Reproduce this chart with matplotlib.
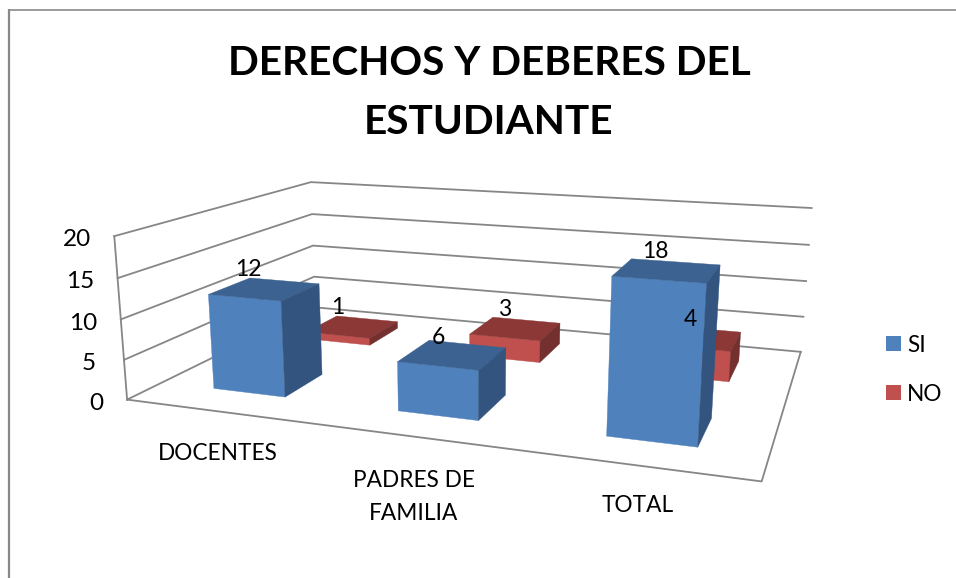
#!/usr/bin/env python3
"""Excel style 3D column chart, drawn through a small perspective projection."""

import numpy as np
import matplotlib
matplotlib.use("Agg")
import matplotlib.pyplot as plt
from matplotlib.patches import Polygon, Rectangle

title = "DERECHOS Y DEBERES DEL\nESTUDIANTE"
categories = ["DOCENTES", "PADRES DE\nFAMILIA", "TOTAL"]
series_names = ["SI", "NO"]
si_values = [12, 6, 18]
no_values = [1, 3, 4]
value_ticks = [0, 5, 10, 15, 20]

plt.rcParams["font.family"] = ["Lato", "DejaVu Sans"]

# camera calibration: box corner (cat, depth, value) -> pixel
calib_world = [
    (0, 0, 0), (0, 0, 5), (0, 0, 10), (0, 0, 15), (0, 0, 20),
    (0, 1, 0), (0, 1, 5), (0, 1, 10), (0, 1, 15), (0, 1, 20),
    (3, 1, 0), (3, 1, 5), (3, 1, 10), (3, 1, 15), (3, 1, 20),
    (3, 0, 0),
]
calib_pixel = [
    (126.7, 399.3), (124, 360), (121, 319), (118, 278), (114, 236.7),
    (315.5, 308), (314, 276.7), (313.3, 245.3), (312, 214), (310.7, 182),
    (800.7, 351.7), (803.3, 316.7), (806, 280.7), (809, 245), (811.7, 208.3),
    (761.7, 481.7),
]


def fit_camera(world, pixel):
    rows = []
    for (x, y, z), (u, v) in zip(world, pixel):
        X = [x / 3, y, z / 20, 1]
        u, v = u / 1000, v / 1000
        rows.append(X + [0, 0, 0, 0] + [-u * c for c in X])
        rows.append([0, 0, 0, 0] + X + [-v * c for c in X])
    _, _, vt = np.linalg.svd(np.array(rows))
    return vt[-1].reshape(3, 4)


P = fit_camera(calib_world, calib_pixel)


def project(x, y, z):
    h = P @ np.array([x / 3, y, z / 20, 1])
    return h[0] / h[2] * 1000, h[1] / h[2] * 1000


def draw_bar(ax, i, d0, d1, value, colors):
    x0, x1 = i + BAR_X0, i + BAR_X1
    front, top, side = colors
    faces = [
        ([(x0, d0, 0), (x1, d0, 0), (x1, d0, value), (x0, d0, value)], front),
        ([(x0, d0, value), (x1, d0, value), (x1, d1, value), (x0, d1, value)], top),
        ([(x1, d0, 0), (x1, d1, 0), (x1, d1, value), (x1, d0, value)], side),
    ]
    for pts, color in faces:
        ax.add_patch(Polygon([project(*p) for p in pts], closed=True, facecolor=color,
                             edgecolor=color, linewidth=0.3, zorder=3))


BAR_X0, BAR_X1 = 0.3, 0.7
SI_DEPTH = (0.15, 0.35)
NO_DEPTH = (0.65, 0.85)
BLUE = ("#4F81BD", "#3B6291", "#32547F")
RED = ("#C0504D", "#8C3836", "#73302E")
GRID = "#868686"
LINE_W = 1.3

fig = plt.figure(figsize=(9.56, 5.78), dpi=100)
ax = fig.add_axes([0, 0, 1, 1])
ax.set_xlim(0, 956)
ax.set_ylim(578, 0)
ax.axis("off")

# chart frame, cut by the page on the right and bottom
ax.plot([9, 9], [9, 578], color="#888888", lw=1.6, solid_capstyle="butt")
ax.plot([8, 956], [10, 10], color="#8a8a8a", lw=1.2, solid_capstyle="butt")

# walls and floor
for v in value_ticks:
    pts = [project(0, 0, v), project(0, 1, v), project(3, 1, v)]
    ax.plot(*zip(*pts), color=GRID, lw=LINE_W, zorder=1)
ax.plot(*zip(project(0, 0, 0), project(0, 0, 20)), color=GRID, lw=LINE_W, zorder=1)
ax.plot(*zip(project(0, 0, 0), project(3, 0, 0), project(3, 1, 0)), color=GRID, lw=LINE_W, zorder=1)

for i, v in enumerate(no_values):
    draw_bar(ax, i, NO_DEPTH[0], NO_DEPTH[1], v, RED)
for i, v in enumerate(si_values):
    draw_bar(ax, i, SI_DEPTH[0], SI_DEPTH[1], v, BLUE)

ax.text(489, 93, title, ha="center", va="center", fontsize=29.2, fontweight="bold",
        color="black", linespacing=1.71)

tick_xy = [(96, 403), (89, 363), (83, 323), (80, 282), (77, 239)]
for v, (x, y) in zip(value_ticks, tick_xy):
    ax.text(x, y, str(v), ha="center", va="center", fontsize=17.5, color="black")

cat_xy = [(218, 454), (414, 497), (638, 505)]
for name, (x, y) in zip(categories, cat_xy):
    ax.text(x, y, name, ha="center", va="center", fontsize=16.3, color="black", linespacing=1.68)

si_label_xy = [(248, 270), (438, 338), (655, 252)]
no_label_xy = [(338, 307), (505, 309), (690, 320)]
for v, (x, y) in zip(si_values + no_values, si_label_xy + no_label_xy):
    ax.text(x, y, str(v), ha="center", va="center", fontsize=16.5, color="black", zorder=5)

legend_y = [343.5, 392.5]
for name, color, y in zip(series_names, [BLUE[0], RED[0]], legend_y):
    ax.add_patch(Rectangle((886, y - 7.5), 15, 15, facecolor=color, edgecolor="none"))
    ax.text(907, y + 2, name, ha="left", va="center", fontsize=16.3, color="black")

fig.savefig("out.png", dpi=100)
